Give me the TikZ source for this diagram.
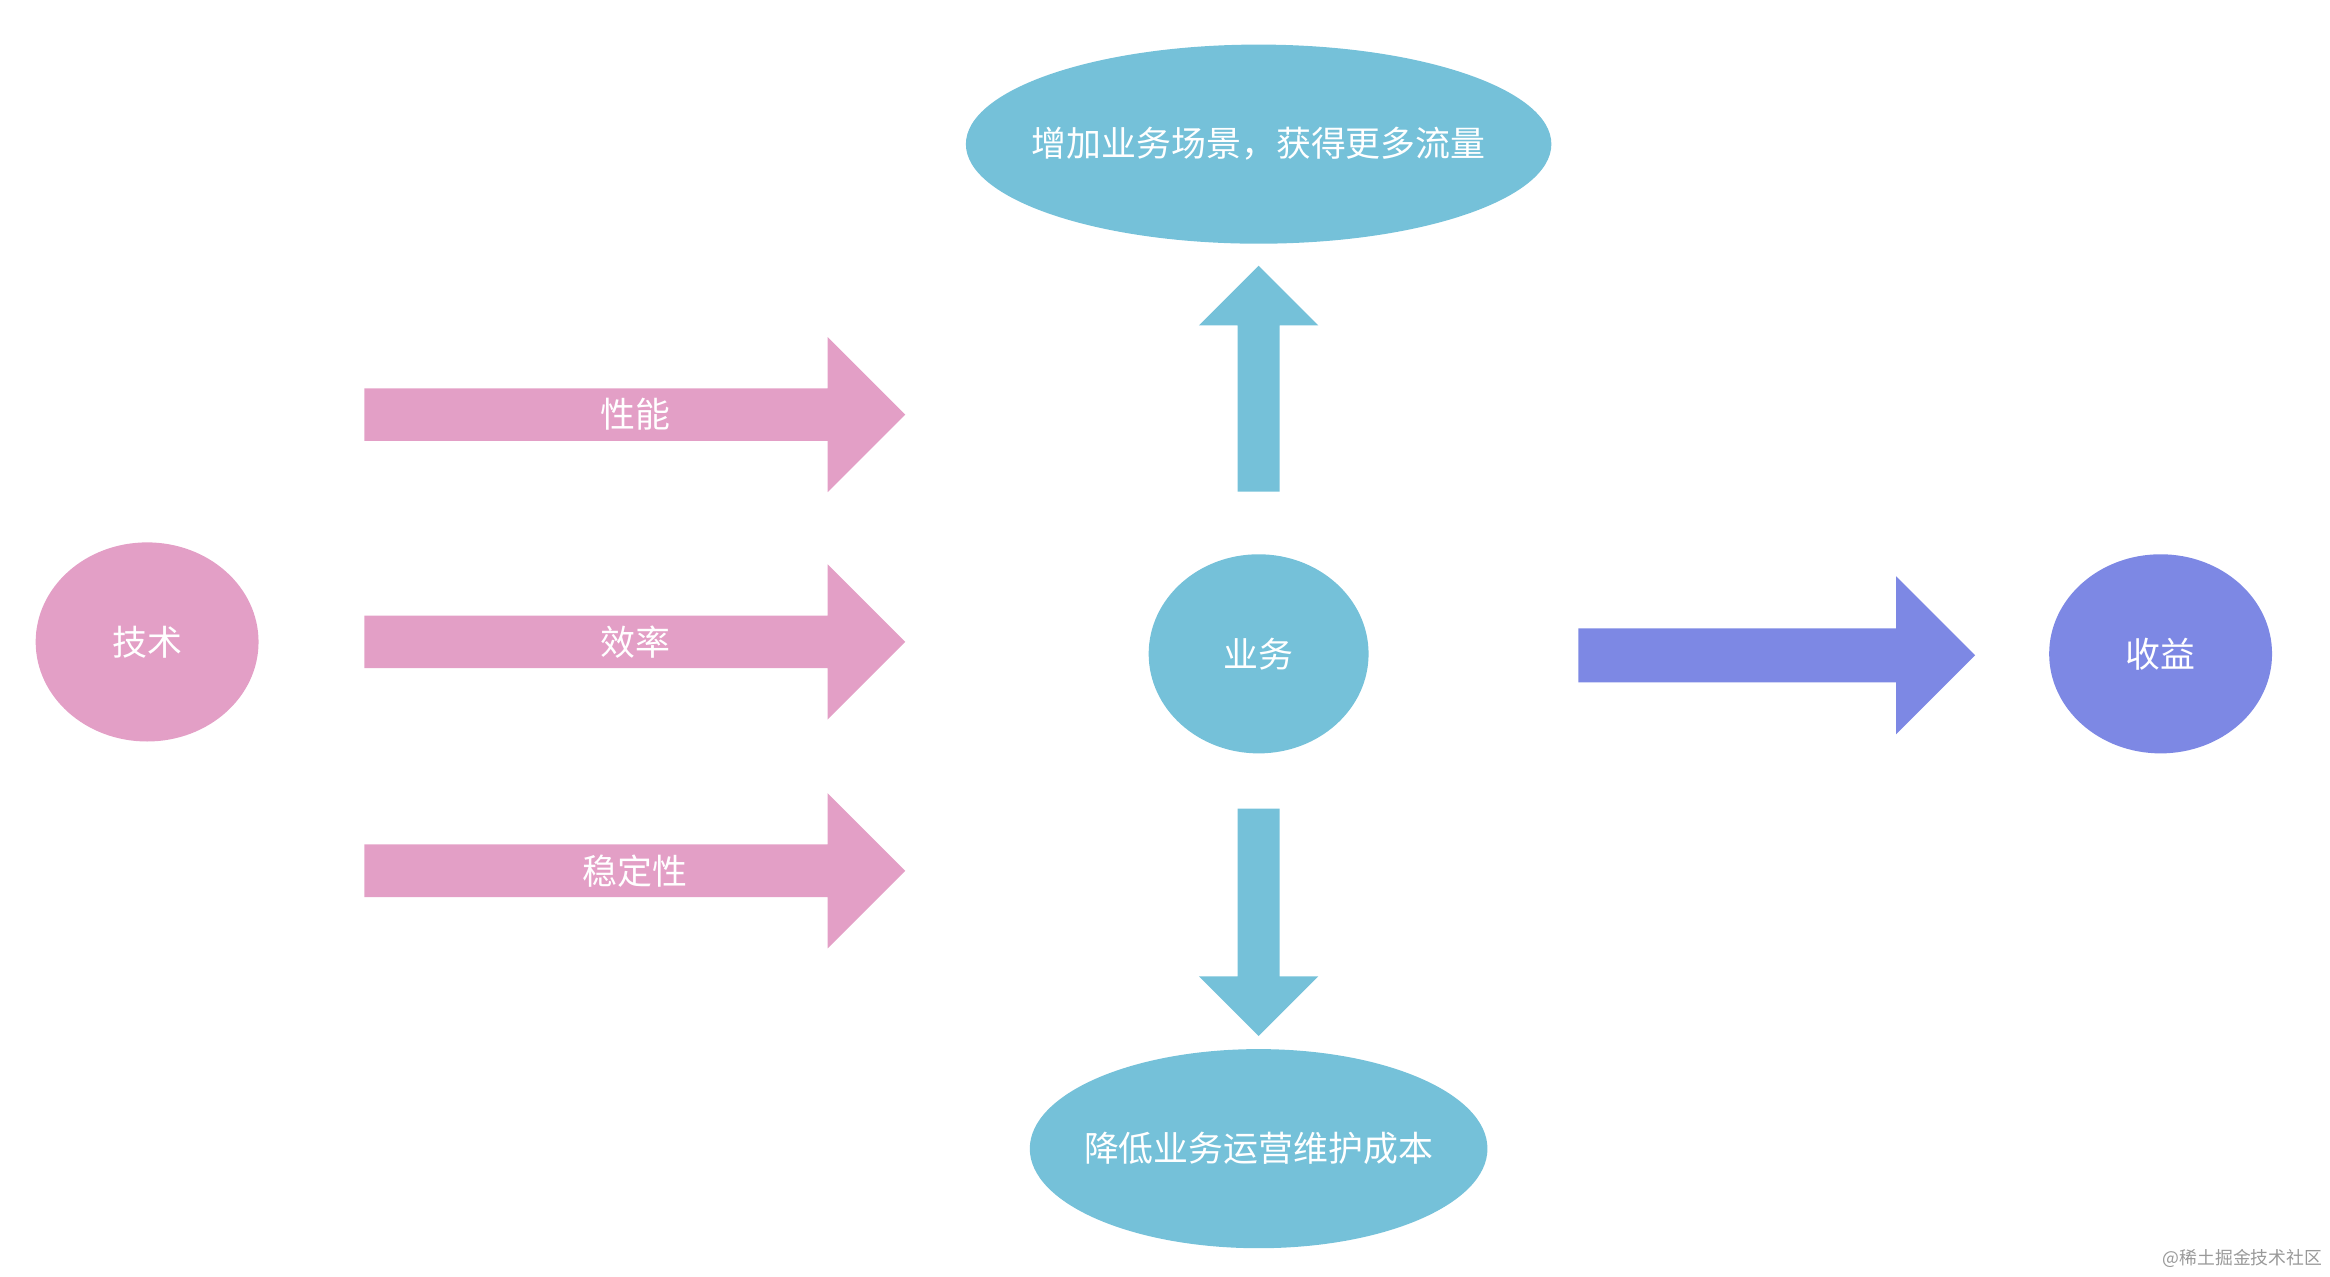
\documentclass[tikz,border=0pt]{standalone}
\usepackage{fontspec}
\setmainfont{Noto Sans CJK SC}
\usepackage{tikz}
\usetikzlibrary{shapes.geometric,shapes.arrows}
\definecolor{techpink}{HTML}{E39FC6}
\definecolor{bizcyan}{HTML}{75C1D9}
\definecolor{gainblue}{HTML}{7D88E4}
\tikzset{
  blob/.style={ellipse, inner sep=0pt, text=white, font=\fontsize{23.5}{28}\selectfont},
  techblob/.style={blob, fill=techpink, minimum width=150pt, minimum height=134pt},
  bizblob/.style={blob, fill=bizcyan, minimum height=134pt},
  fatarrow/.style={single arrow, single arrow tip angle=90, inner xsep=0pt, anchor=tail},
  pinkarrow/.style={fatarrow, fill=techpink, text=white, font=\fontsize{23.5}{28}\selectfont,
    text height=26.5pt, text depth=8.5pt, inner ysep=0pt,
    single arrow head extend=34.5pt, minimum height=364pt,
    execute at begin node={\hspace*{18pt}}},
  bizarrow/.style={fatarrow, fill=bizcyan, text height=0pt, text depth=0pt, inner ysep=14pt,
    single arrow head extend=26pt},
}
\begin{document}
\begin{tikzpicture}[x=1pt, y=-1pt]
    \useasboundingbox (0,0) rectangle (1568,858.7);
    % technology
    \node[techblob] (tech) at (99,432) {技术};
    % pink arrows
    \node[pinkarrow] (perf) at (245,279) {性能};
    \node[pinkarrow] (effi) at (245,432) {效率};
    \node[pinkarrow] (stab) at (245,586) {稳定性};

    % business
    \node[bizblob, minimum width=148pt] (biz) at (847,440) {业务};
    \node[bizblob, minimum width=394pt, inner xsep=-25pt] (grow) at (847,97) {增加业务场景，获得更多流量};
    \node[bizblob, minimum width=308pt, inner xsep=-25pt] (cost) at (847,773) {降低业务运营维护成本};
    \node[bizarrow, rotate=90, minimum height=152pt] (up) at (847,331) {};
    \node[bizarrow, rotate=-90, minimum height=153pt] (down) at (847,544) {};

    % gain
    \node[fatarrow, fill=gainblue, text height=0pt, text depth=0pt, inner ysep=18pt,
      single arrow head extend=35pt, minimum height=267pt] (toward) at (1062,441) {};
    \node[techblob, fill=gainblue] (gain) at (1454,440) {收益};

    % watermark
    \node[anchor=east, text=black!40, font=\fontsize{12}{14}\selectfont, inner sep=0pt] (mark) at (1563,847) {@稀土掘金技术社区};
  \end{tikzpicture}
\end{document}
